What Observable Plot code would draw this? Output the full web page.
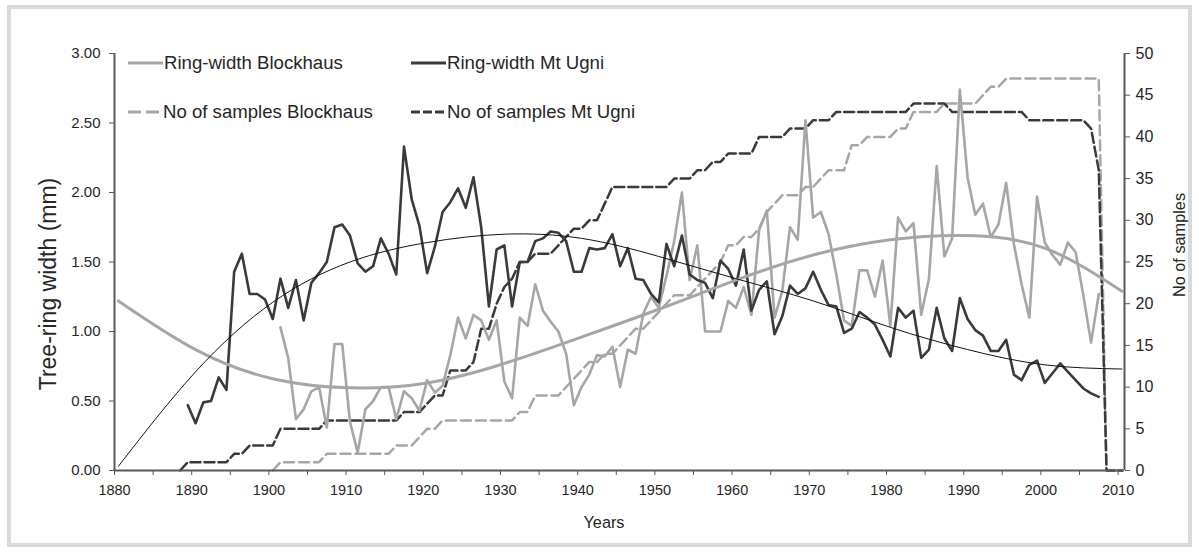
<!DOCTYPE html>
<html><head><meta charset="utf-8">
<script src="https://cdn.jsdelivr.net/npm/d3@7"></script>
<script src="https://cdn.jsdelivr.net/npm/@observablehq/plot@0.6"></script>
<style>
body{margin:0;background:#fff;font-family:"Liberation Sans",Arial,sans-serif;}
#wrap{position:relative;width:1199px;height:552px;overflow:hidden;}
#frame{position:absolute;left:7px;top:5px;width:1177px;height:534px;border:4px solid #d9d9d9;pointer-events:none;}
.t{position:absolute;font-size:16.3px;color:#262626;white-space:nowrap;}
.leg{position:absolute;font-size:18.6px;color:#262626;display:flex;align-items:center;white-space:nowrap;height:22px;}
.leg svg{margin-right:1px}
</style></head><body>
<div id="wrap"><div id="chart"></div><div id="legend"></div><div id="frame"></div></div>
<script>
// ---------------- data ----------------
const xTicks = d3.range(1880, 2011, 5);
const yTicksMm = [0, 0.5, 1, 1.5, 2, 2.5, 3];
const yTicksSamples = [0, 5, 10, 15, 20, 25, 30, 35, 40, 45, 50];

// Ring-width Mt Ugni, 1889-2007 (mm)
const ugniStart = 1889;
const ugniWidth = [
  0.47,
  0.34, 0.49, 0.50, 0.67, 0.58, 1.43, 1.56, 1.27, 1.27, 1.23,   // 1890-1899
  1.09, 1.38, 1.17, 1.37, 1.08, 1.35, 1.42, 1.50, 1.75, 1.77,   // 1900-1909
  1.69, 1.49, 1.43, 1.47, 1.67, 1.56, 1.41, 2.33, 1.95, 1.76,   // 1910-1919
  1.42, 1.61, 1.86, 1.93, 2.03, 1.89, 2.11, 1.75, 1.18, 1.59,   // 1920-1929
  1.62, 1.18, 1.50, 1.50, 1.65, 1.67, 1.72, 1.71, 1.65, 1.43,   // 1930-1939
  1.43, 1.60, 1.59, 1.60, 1.70, 1.47, 1.60, 1.38, 1.37, 1.27,   // 1940-1949
  1.21, 1.63, 1.47, 1.69, 1.41, 1.37, 1.35, 1.24, 1.51, 1.45,   // 1950-1959
  1.33, 1.59, 1.15, 1.30, 1.36, 0.98, 1.11, 1.33, 1.27, 1.31,   // 1960-1969
  1.43, 1.30, 1.19, 1.18, 0.99, 1.02, 1.14, 1.10, 1.05, 0.94,   // 1970-1979
  0.82, 1.17, 1.10, 1.15, 0.81, 0.87, 1.17, 0.95, 0.86, 1.24,   // 1980-1989
  1.09, 1.01, 0.97, 0.86, 0.86, 0.94, 0.69, 0.65, 0.76, 0.79,   // 1990-1999
  0.63, 0.70, 0.77, 0.71, 0.65, 0.59, 0.555, 0.53              // 2000-2007
];

// Ring-width Blockhaus, 1901-2007 (mm)
const blockStart = 1901;
const blockWidth = [
  1.03, 0.81, 0.37, 0.44, 0.57, 0.60, 0.31, 0.91, 0.91,         // 1901-1909
  0.35, 0.13, 0.44, 0.50, 0.60, 0.60, 0.37, 0.57, 0.52, 0.43,   // 1910-1919
  0.65, 0.56, 0.61, 0.83, 1.10, 0.95, 1.12, 1.08, 0.94, 1.08,   // 1920-1929
  0.64, 0.52, 1.10, 1.04, 1.34, 1.15, 1.07, 1.00, 0.84, 0.47,   // 1930-1939
  0.60, 0.69, 0.83, 0.82, 0.89, 0.60, 0.87, 0.84, 1.13, 1.25,   // 1940-1949
  1.17, 1.40, 1.65, 2.00, 1.37, 1.62, 1.00, 1.00, 1.00, 1.22,   // 1950-1959
  1.17, 1.32, 1.12, 1.73, 1.87, 1.10, 1.29, 1.75, 1.66, 2.52,   // 1960-1969
  1.82, 1.86, 1.70, 1.41, 1.08, 1.04, 1.44, 1.44, 1.25, 1.51,   // 1970-1979
  1.04, 1.82, 1.72, 1.78, 1.12, 1.38, 2.19, 1.54, 1.67, 2.74,   // 1980-1989
  2.11, 1.84, 1.92, 1.68, 1.77, 2.07, 1.63, 1.34, 1.10, 1.97,   // 1990-1999
  1.64, 1.55, 1.48, 1.64, 1.57, 1.26, 0.92, 1.27               // 2000-2007
];

// No of samples Mt Ugni, 1888-2010
const ugniSamplesStart = 1888;
const ugniSamples = [
  0, 1,                                   // 1888-1889
  1, 1, 1, 1, 1, 2, 2, 3, 3, 3,           // 1890-1899
  3, 5, 5, 5, 5, 5, 5, 6, 6, 6,           // 1900-1909
  6, 6, 6, 6, 6, 6, 6, 7, 7, 7,           // 1910-1919
  8, 9, 9, 12, 12, 12, 13, 17, 17, 20,    // 1920-1929
  22, 23, 25, 25, 26, 26, 26, 27, 28, 29, // 1930-1939
  29, 30, 30, 32, 34, 34, 34, 34, 34, 34, // 1940-1949
  34, 34, 35, 35, 35, 36, 36, 37, 37, 38, // 1950-1959
  38, 38, 38, 40, 40, 40, 40, 41, 41, 41, // 1960-1969
  42, 42, 42, 43, 43, 43, 43, 43, 43, 43, // 1970-1979
  43, 43, 43, 44, 44, 44, 44, 44, 43, 43, // 1980-1989
  43, 43, 43, 43, 43, 43, 43, 43, 42, 42, // 1990-1999
  42, 42, 42, 42, 42, 42, 41, 36, 0, 0,   // 2000-2009
  0                                       // 2010
];

// No of samples Blockhaus, 1900-2010
const blockSamplesStart = 1900;
const blockSamples = [
  0, 1, 1, 1, 1, 1, 1, 2, 2, 2,           // 1900-1909
  2, 2, 2, 2, 2, 2, 3, 3, 3, 4,           // 1910-1919
  5, 5, 6, 6, 6, 6, 6, 6, 6, 6,           // 1920-1929
  6, 6, 7, 7, 9, 9, 9, 9, 10, 11,         // 1930-1939
  12, 13, 13, 14, 14, 15, 16, 17, 17, 18, // 1940-1949
  19, 20, 21, 21, 21, 22, 23, 24, 25, 27, // 1950-1959
  27, 28, 28, 29, 31, 32, 33, 33, 33, 34, // 1960-1969
  34, 35, 36, 36, 36, 39, 39, 40, 40, 40, // 1970-1979
  40, 41, 41, 43, 43, 43, 43, 44, 44, 44, // 1980-1989
  44, 44, 45, 46, 46, 47, 47, 47, 47, 47, // 1990-1999
  47, 47, 47, 47, 47, 47, 47, 47, 0, 0,   // 2000-2009
  0                                       // 2010
];

// Trend curves (every 10 years)
const trendYears = [1880, 1890, 1900, 1910, 1920, 1930, 1940, 1950, 1960, 1970, 1980, 1990, 2000, 2010];
const ugniTrend  = [0.03, 0.71, 1.21, 1.50, 1.64, 1.70, 1.67, 1.54, 1.38, 1.22, 1.03, 0.87, 0.76, 0.73];
const blockTrend = [1.22, 0.87, 0.66, 0.595, 0.63, 0.77, 0.96, 1.16, 1.37, 1.55, 1.66, 1.69, 1.60, 1.29];

// ---------------- build ----------------
const yearCentre = 0.5;           // each yearly value sits in the middle of its year
const samplesMax = 50, mmMax = 3;
const toMm = s => s * mmMax / samplesMax;
const series = (start, vals) => vals.map((v, i) => ({year: start + i, v}));

const ugniW = series(ugniStart, ugniWidth);
const blockW = series(blockStart, blockWidth);
const ugniS = series(ugniSamplesStart, ugniSamples);
const blockS = series(blockSamplesStart, blockSamples);
const ugniT = trendYears.map((y, i) => ({year: y, v: ugniTrend[i]}));
const blockT = trendYears.map((y, i) => ({year: y, v: blockTrend[i]}));

const X = d => d.year + yearCentre;
const axisCol = "#595959";
const textCol = "#262626";
const xEnd = 2010.83;

const chart = Plot.plot({
  width: 1199, height: 552,
  marginLeft: 114, marginRight: 75, marginTop: 53, marginBottom: 82,
  x: {domain: [1880, xEnd]},
  y: {domain: [0, 3]},
  style: {fontFamily: "Liberation Sans, Arial, sans-serif", fontSize: "15px", color: textCol, background: "transparent"},
  marks: [
    Plot.line(blockS, {x: X, y: d => toMm(d.v), stroke: "#a6a6a6", strokeWidth: 2.5, strokeDasharray: "10,5"}),
    Plot.line(ugniS, {x: X, y: d => toMm(d.v), stroke: "#3a3a3a", strokeWidth: 2.5, strokeDasharray: "10,4"}),
    Plot.line(blockW, {x: X, y: "v", stroke: "#a6a6a6", strokeWidth: 2.6}),
    Plot.line(ugniW, {x: X, y: "v", stroke: "#3a3a3a", strokeWidth: 2.6}),
    Plot.line(blockT, {x: X, y: "v", curve: "natural", stroke: "#a6a6a6", strokeWidth: 3}),
    Plot.line(ugniT, {x: X, y: "v", curve: "natural", stroke: "#111", strokeWidth: 1}),
    Plot.ruleY([0], {stroke: axisCol, strokeWidth: 2}),
    Plot.ruleX([1880], {stroke: axisCol, strokeWidth: 2}),
    Plot.ruleX([xEnd], {stroke: axisCol, strokeWidth: 2}),
    Plot.axisX({ticks: xTicks, tickFormat: d => d % 10 === 0 ? String(d) : "", tickSize: 5, tickPadding: 9,
      stroke: axisCol, fill: textCol, label: null, fontSize: 14.5}),
    Plot.axisY({ticks: yTicksMm, tickFormat: d3.format(".2f"), tickSize: 5, tickPadding: 9,
      stroke: axisCol, fill: textCol, label: null}),
    Plot.axisY({anchor: "right", ticks: yTicksSamples.map(toMm), tickFormat: d => String(Math.round(d * samplesMax / mmMax)),
      tickSize: 5, tickPadding: 6, stroke: axisCol, fill: textCol, label: null, fontSize: 16})
  ]
});
document.getElementById("chart").appendChild(chart);

// axis titles
const wrap = document.getElementById("wrap");
function addText(txt, x, y, rot, size) {
  const el = document.createElement("div");
  el.className = "t";
  el.textContent = txt;
  if (size) el.style.fontSize = size + "px";
  el.style.left = x + "px"; el.style.top = y + "px";
  el.style.transform = "translate(-50%,-50%)" + (rot ? " rotate(-90deg)" : "");
  wrap.appendChild(el);
}
addText("Tree-ring width (mm)", 48, 284, true, 23);
addText("No of samples", 1179, 245, true);
addText("Years", 604, 522, false);

// legend
const legendItems = [
  {label: "Ring-width Blockhaus", color: "#a6a6a6", dash: null, x: 128, y: 63, w: 35},
  {label: "Ring-width Mt Ugni", color: "#3a3a3a", dash: null, x: 411, y: 63, w: 35},
  {label: "No of samples Blockhaus", color: "#a6a6a6", dash: "13,5", x: 128, y: 112, w: 34},
  {label: "No of samples Mt Ugni", color: "#3a3a3a", dash: "9,3", x: 411, y: 112, w: 35}
];
const leg = document.getElementById("legend");
for (const it of legendItems) {
  const d = document.createElement("div");
  d.className = "leg";
  d.style.left = it.x + "px"; d.style.top = (it.y - 11) + "px";
  d.innerHTML = `<svg width="${it.w}" height="6"><line x1="0" y1="3" x2="${it.w}" y2="3" stroke="${it.color}" stroke-width="2.8" ${it.dash ? `stroke-dasharray="${it.dash}"` : ""}/></svg><span>${it.label}</span>`;
  leg.appendChild(d);
}
</script>
</body></html>
